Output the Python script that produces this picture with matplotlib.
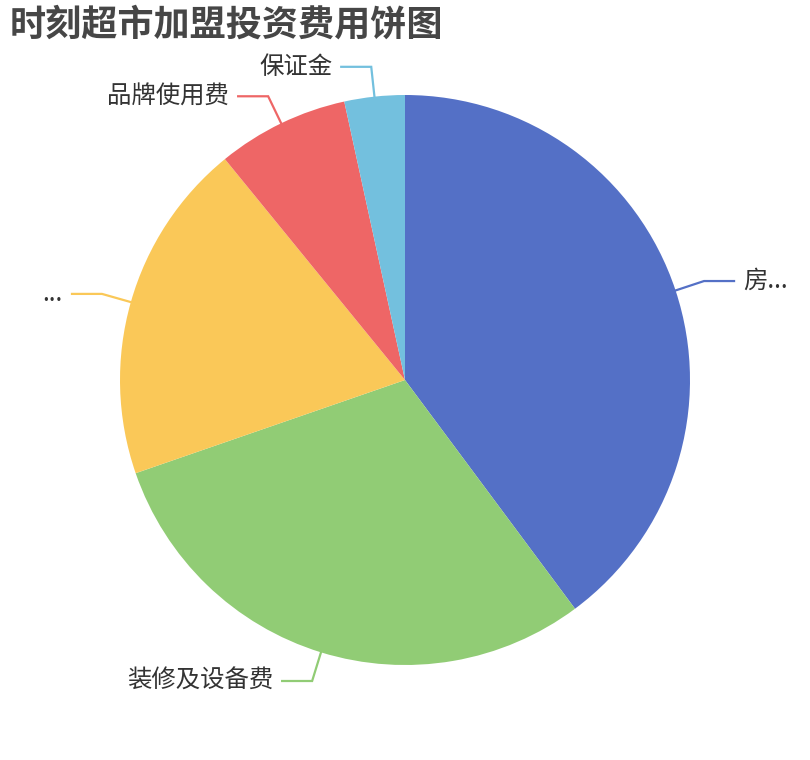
import numpy as np
import matplotlib
matplotlib.use("Agg")
import matplotlib.pyplot as plt

plt.rcParams['font.family'] = ['Noto Sans CJK SC', 'DejaVu Sans']

labels = ["房...", "装修及设备费", "...", "品牌使用费", "保证金"]
values = [12.0, 9.0, 5.85, 2.25, 1.03]
colors = ["#5470c6", "#91cc75", "#fac858", "#ee6666", "#73c0de"]

W, H = 810, 760
cx, cy, R = 405, 380, 285          # pie centre / radius in pixels

fig = plt.figure(figsize=(W / 100, H / 100), dpi=100)
ax = fig.add_axes([0, 0, 1, 1])

wedges, _ = ax.pie(values, colors=colors, startangle=90, counterclock=False,
                   radius=1.0, center=(0, 0), frame=True,
                   wedgeprops=dict(linewidth=0))
ax.set_xlim(-cx / R, (W - cx) / R)
ax.set_ylim(-(H - cy) / R, cy / R)
ax.set_aspect("equal")
ax.axis("off")

# label lines: radial 30px then horizontal 30px
seg1 = 30 / R
seg2 = 30 / R
gap = 9 / R
for w, lab, col in zip(wedges, labels, colors):
    ang = np.deg2rad((w.theta1 + w.theta2) / 2)
    x0, y0 = np.cos(ang), np.sin(ang)
    x1, y1 = (1 + seg1) * x0, (1 + seg1) * y0
    side = 1 if x0 >= 0 else -1
    x2 = x1 + side * seg2
    ax.plot([x0, x1, x2], [y0, y1, y1], color=col, lw=1.6,
            solid_joinstyle="miter", clip_on=False)
    ax.text(x2 + side * gap, y1, lab, ha="left" if side > 0 else "right",
            va="center", fontsize=17.6, color="#333333")

fig.text(10 / W, 1 - 25 / H, "时刻超市加盟投资费用饼图", fontsize=26,
         fontweight="bold", color="#464646", ha="left", va="center")

fig.savefig("out.png", dpi=100, facecolor="white")
